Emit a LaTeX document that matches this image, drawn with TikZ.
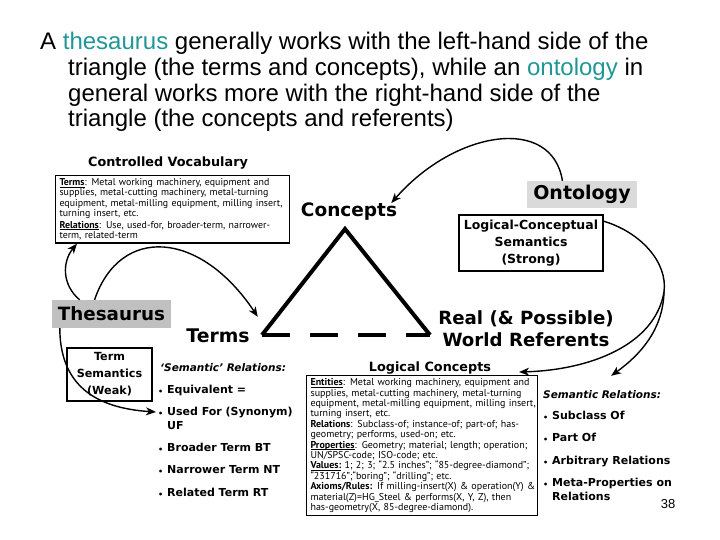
\documentclass[tikz,border=0pt]{standalone}
\usepackage{fontspec}
\setmainfont{Liberation Sans}
\newfontfamily\labfont{DejaVu Sans}
\newfontfamily\smallfont{PT Sans}
\usetikzlibrary{arrows.meta}
\definecolor{tealtext}{RGB}{32,150,150}
\definecolor{ontgray}{RGB}{218,218,218}
\definecolor{thesgray}{RGB}{192,192,192}
\newcommand{\blt}{\makebox[9pt][l]{\fontsize{8}{8}\selectfont\raisebox{-0.2em}{•}}}
\newcommand{\ulb}[1]{\underline{\smash{\textbf{#1}}}}
\begin{document}
\begin{tikzpicture}[x=1pt,y=-1pt,
  big/.style={font=\labfont\bfseries\fontsize{18.5}{21}\selectfont, inner sep=0pt},
  mid/.style={font=\labfont\bfseries\fontsize{12.5}{17}\selectfont, inner sep=0pt},
  item/.style={font=\labfont\bfseries\fontsize{11}{14}\selectfont, inner sep=0pt, anchor=base west},
  itemhead/.style={item, font=\labfont\bfseries\itshape\fontsize{10.5}{14}\selectfont},
  body/.style={font=\smallfont\fontsize{9.9}{10.4}\selectfont, draw, line width=1.1pt, align=left, inner xsep=4pt, inner ysep=3pt, anchor=north west},
  conn/.style={line width=1.4pt, -{Stealth[length=10pt,width=8pt,inset=3pt]}},
  tri/.style={line width=4pt}]
\useasboundingbox (0,0) rectangle (720,540);

% title
\node[anchor=base west, inner sep=0pt, font=\fontsize{24}{25.6}\selectfont] (title) at (40,50)
  {\parbox[t]{670pt}{\hangindent=28pt\hangafter=1 A \textcolor{tealtext}{thesaurus} generally works with the left-hand side of the\\
  triangle (the terms and concepts), while an \textcolor{tealtext}{ontology} in\\
  general works more with the right-hand side of the\\
  triangle (the concepts and referents)}};

% controlled vocabulary
\node[mid, font=\labfont\bfseries\fontsize{12.8}{17}\selectfont] (cvlabel) at (168,163) {Controlled Vocabulary};
\node[body, text width=226pt] (cv) at (55,175)
  {\mbox{\ulb{Terms}: Metal working machinery, equipment and}\\
  \mbox{supplies, metal-cutting machinery, metal-turning}\\
  \mbox{equipment, metal-milling equipment, milling insert,}\\
  \mbox{turning insert, etc.}\\[1pt]
  \mbox{\ulb{Relations}: Use, used-for, broader-term, narrower-}\\
  \mbox{term, related-term}};

% ontology side
\node[big, fill=ontgray, minimum width=110pt, minimum height=27pt, font=\labfont\bfseries\fontsize{19}{21}\selectfont] (ont) at (582,194.5) {Ontology};
\node[big] (concepts) at (349,212) {Concepts};
\node[mid, draw, line width=1.5pt, minimum width=144pt, minimum height=56pt, align=center] (lcsem) at (531,243)
  {Logical-Conceptual\\Semantics\\(Strong)};

% triangle
\coordinate (apex) at (345,229);
\coordinate (bl) at (262,335);
\coordinate (br) at (430,335);
\draw[tri, line join=miter] (bl) -- (apex) -- (br);
\draw[tri, dash pattern=on 28pt off 20pt] (bl) -- (br);

% thesaurus side
\node[big, fill=thesgray, minimum width=119pt, minimum height=28pt, font=\labfont\bfseries\fontsize{18.3}{21}\selectfont] (thes) at (111.5,314) {Thesaurus};
\node[big, font=\labfont\bfseries\fontsize{18.8}{21}\selectfont] (terms) at (218,336) {Terms};
\node[big, font=\labfont\bfseries\fontsize{18.2}{22}\selectfont, align=center] (real) at (526,329) {Real (\& Possible)\\World Referents};

\node[mid, font=\labfont\bfseries\fontsize{11.2}{17}\selectfont, draw, line width=1.5pt, minimum width=85pt, minimum height=53pt, align=center] (termsem) at (109.5,374.5)
  {Term\\Semantics\\(Weak)};

% left relations list
\node[itemhead] (semL) at (160,371) {‘Semantic’ Relations:};
\node[item] (equiv) at (158,393) {\blt Equivalent =};
\node[item] (usedfor) at (158,415) {\blt Used For (Synonym)};
\node[item] (uf) at (167,429) {UF};
\node[item] (bt) at (158,451) {\blt Broader Term BT};
\node[item] (nt) at (158,473) {\blt Narrower Term NT};
\node[item] (rt) at (158,496) {\blt Related Term RT};

% logical concepts
\node[mid, font=\labfont\bfseries\fontsize{12.8}{17}\selectfont] (lclabel) at (430,368) {Logical Concepts};
\node[body, text width=223pt, font=\smallfont\fontsize{10}{10.4}\selectfont] (lc) at (306,375)
  {\mbox{\ulb{Entities}: Metal working machinery, equipment and}\\
  \mbox{supplies, metal-cutting machinery, metal-turning}\\
  \mbox{equipment, metal-milling equipment, milling insert,}\\
  \mbox{turning insert, etc.}\\
  \mbox{\textbf{Relations}: Subclass-of; instance-of; part-of; has-}\\
  \mbox{geometry; performs, used-on; etc.}\\
  \mbox{\ulb{Properties}: Geometry; material; length; operation;}\\
  \mbox{UN/SPSC-code; ISO-code; etc.}\\
  \mbox{\ulb{Values:} 1; 2; 3; “2.5 inches”; “85-degree-diamond”;}\\
  \mbox{“231716”;“boring”; “drilling”; etc.}\\
  \mbox{\textbf{Axioms/Rules:} If milling-insert(X) \& operation(Y) \&}\\
  \mbox{material(Z)=HG\_Steel \& performs(X, Y, Z), then}\\
  \mbox{has-geometry(X, 85-degree-diamond).}};

% right relations list
\node[itemhead] (semR) at (543,398) {Semantic Relations:};
\node[item] (subc) at (543,419) {\blt Subclass Of};
\node[item] (partof) at (543,441) {\blt Part Of};
\node[item] (arb) at (543,464) {\blt Arbitrary Relations};
\node[item] (meta) at (543,486) {\blt Meta-Properties on};
\node[item] (metab) at (552,500) {Relations};

\node[inner sep=0pt, font=\fontsize{13}{13}\selectfont] (pg) at (668,504) {38};

% connectors
\draw[conn] (ont.145) .. controls (552,115) and (455,130) .. (concepts.12);
\draw[conn] (thes.156) .. controls (62,285) and (62,262) .. ([xshift=22pt]cv.south west);
\draw[conn] (thes.140) .. controls (120,225) and (200,230) .. ([xshift=8pt,yshift=12pt]terms.north east);
\draw[conn] ([xshift=8pt]thes.south west) .. controls (60,385) and (95,408) .. ([xshift=-2pt]usedfor.west);
\coordinate (split) at (664,292);
\draw[line width=1.4pt] ([yshift=-7pt]lcsem.north east) .. controls (640,232) and (668,262) .. (split);
\draw[conn] (split) .. controls (655,345) and (590,370) .. ([xshift=-19pt,yshift=3pt]lc.north east);
\draw[conn] (split) .. controls (663,330) and (640,355) .. ([xshift=9pt,yshift=14pt]semR.north);
\end{tikzpicture}
\end{document}
